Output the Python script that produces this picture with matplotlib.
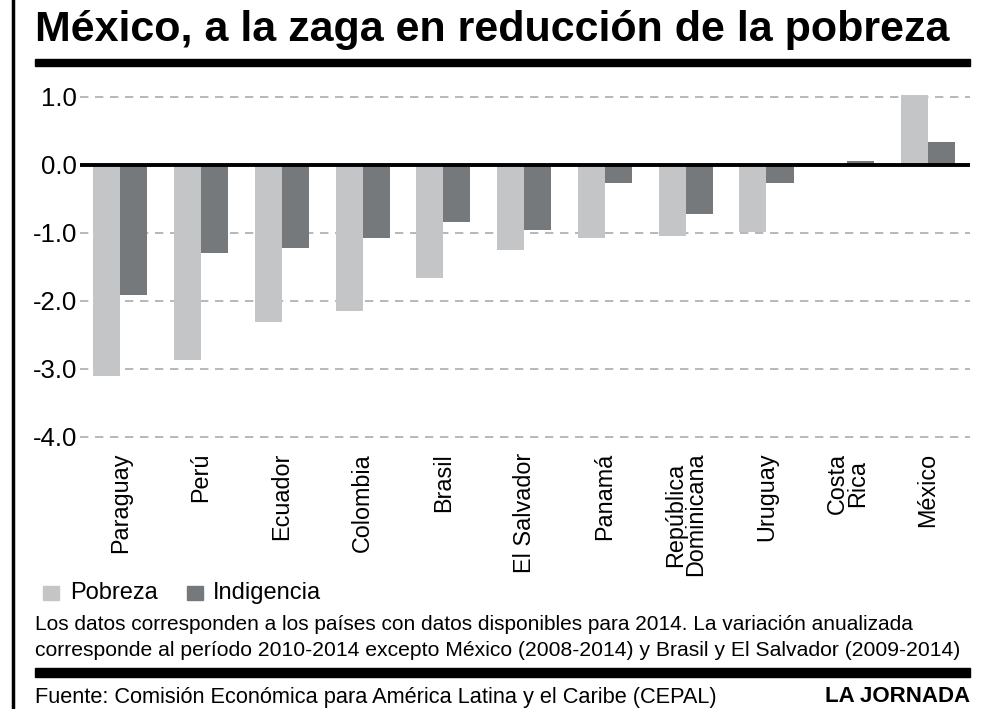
import matplotlib
matplotlib.use("Agg")
import matplotlib.pyplot as plt
import numpy as np
from matplotlib.patches import Rectangle
from matplotlib.lines import Line2D

countries = ["Paraguay", "Perú", "Ecuador", "Colombia", "Brasil", "El Salvador",
             "Panamá", "República\nDominicana", "Uruguay", "Costa\nRica", "México"]
pobreza = [-3.1, -2.87, -2.31, -2.15, -1.66, -1.25, -1.08, -1.04, -0.98, 0.0, 1.03]
indigencia = [-1.92, -1.3, -1.22, -1.07, -0.84, -0.96, -0.27, -0.73, -0.27, 0.06, 0.34]
yticks = [1.0, 0.0, -1.0, -2.0, -3.0, -4.0]
ytick_labels = ["1.0", "0.0", "-1.0", "-2.0", "-3.0", "-4.0"]

c_pob = "#c3c5c7"
c_ind = "#76797b"

plt.rcParams['font.family'] = ['Liberation Sans', 'DejaVu Sans']

fig = plt.figure(figsize=(9.98, 7.09), dpi=100)
ax = fig.add_axes([0.080, 0.379, 0.892, 0.494])

x = np.arange(len(countries))
w = 0.335
ax.bar(x - w/2, pobreza, w, color=c_pob, zorder=2)
ax.bar(x + w/2, indigencia, w, color=c_ind, zorder=2)

ax.set_xlim(-0.5, 10.52)
ax.set_ylim(-4.05, 1.1)
ax.set_yticks(yticks)
ax.set_yticklabels(ytick_labels, fontsize=18.5)
for yv in yticks:
    if yv != 0:
        ax.axhline(yv, color="#a9abad", lw=1.2, ls=(0, (5, 4)), zorder=1)
ax.axhline(0, color="black", lw=2.8, zorder=3)
ax.tick_params(axis='y', length=0, pad=2)
ax.set_xticks(x)
ax.set_xticklabels(countries, rotation=90, fontsize=16.8, va='top', ha='center',
                   linespacing=0.85)
ax.tick_params(axis='x', length=0, pad=9)
for s in ax.spines.values():
    s.set_visible(False)

# Frame decorations
fig.add_artist(Line2D([0.013, 0.013], [0, 1], color="black", lw=2.5))
fig.add_artist(Rectangle((0.035, 1 - 66/709), 0.937, 7/709, color="black"))
fig.add_artist(Rectangle((0.035, 1 - 677/709), 0.937, 9/709, color="black"))

fig.text(0.035, 1 - 30/709, "México, a la zaga en reducción de la pobreza",
         fontsize=31, fontweight='bold', va='center', ha='left')

# legend
fig.add_artist(Rectangle((43/998, 1 - 600/709), 16/998, 14/709, color=c_pob))
fig.text(70/998, 1 - 593/709, "Pobreza", fontsize=17, va='center', ha='left')
fig.add_artist(Rectangle((187/998, 1 - 600/709), 16/998, 14/709, color=c_ind))
fig.text(213/998, 1 - 593/709, "Indigencia", fontsize=17, va='center', ha='left')

fig.text(0.035, 1 - 625/709,
         "Los datos corresponden a los países con datos disponibles para 2014. La variación anualizada",
         fontsize=15, va='center', ha='left')
fig.text(0.035, 1 - 651/709,
         "corresponde al período 2010-2014 excepto México (2008-2014) y Brasil y El Salvador (2009-2014)",
         fontsize=15.2, va='center', ha='left')
fig.text(0.035, 1 - 697/709,
         "Fuente: Comisión Económica para América Latina y el Caribe (CEPAL)",
         fontsize=15.7, va='center', ha='left')
fig.text(0.972, 1 - 697/709, "LA JORNADA", fontsize=16, fontweight='bold',
         va='center', ha='right')

fig.savefig("out.png", dpi=100)
